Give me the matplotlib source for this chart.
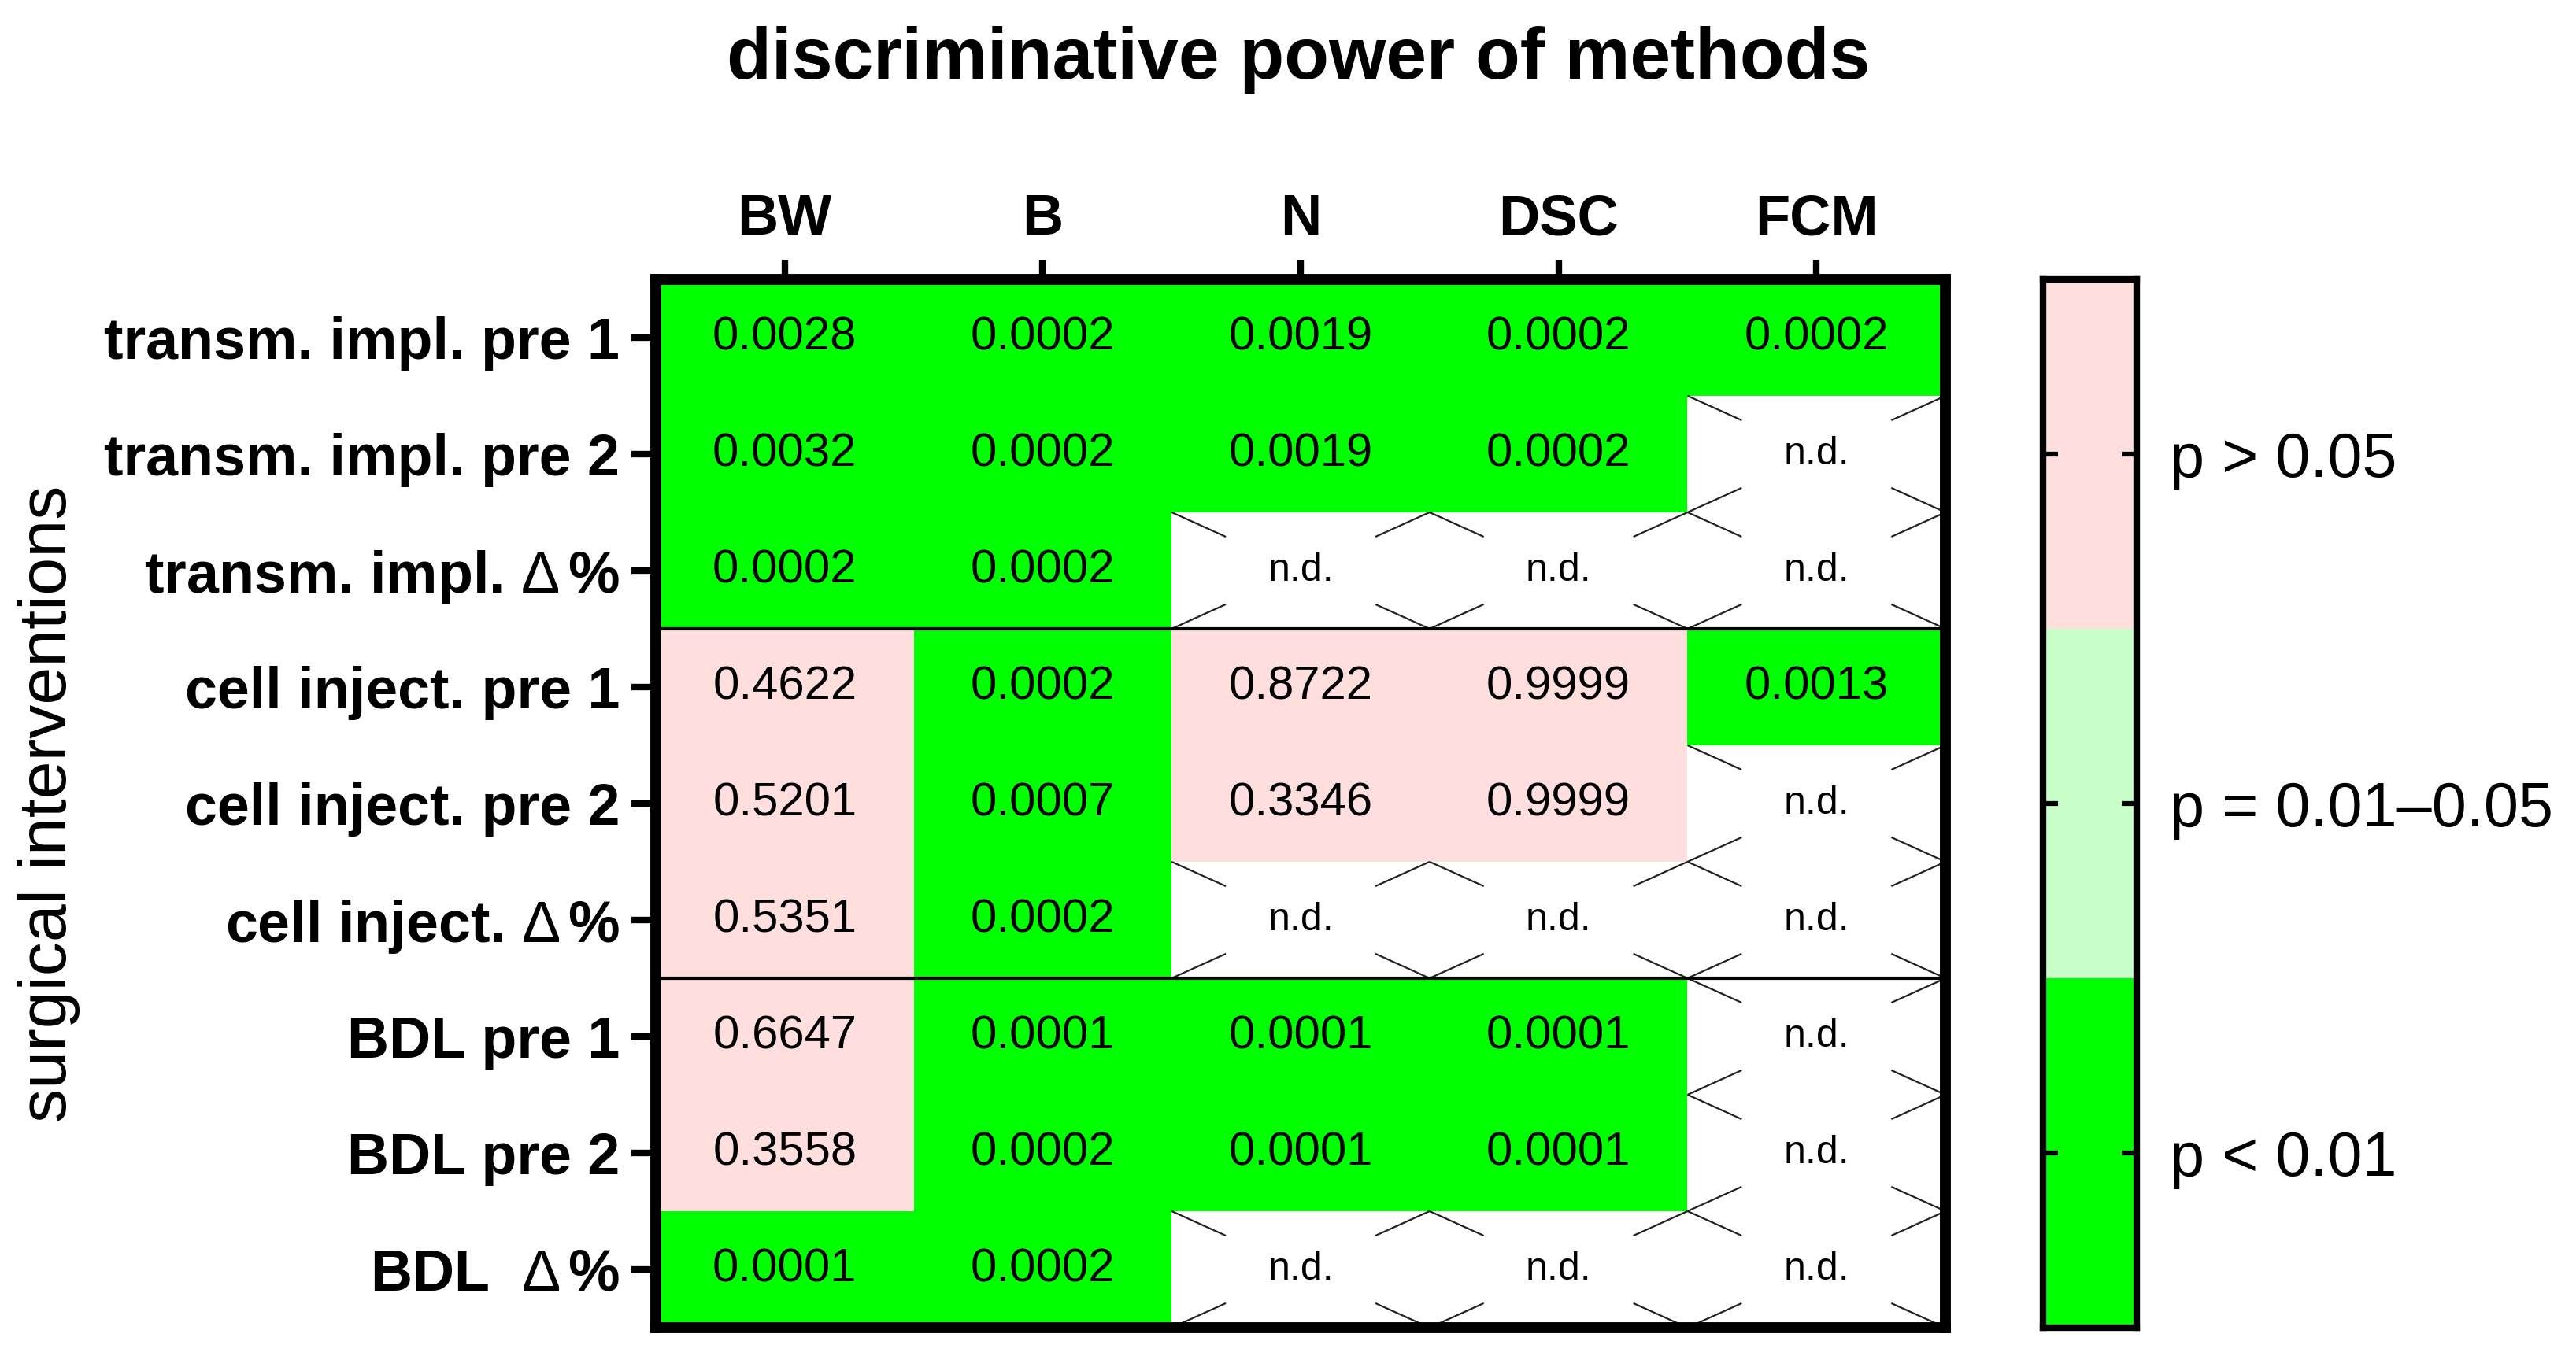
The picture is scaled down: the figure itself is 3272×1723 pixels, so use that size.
import numpy as np
import matplotlib
matplotlib.use('Agg')
import matplotlib.pyplot as plt
from matplotlib.colors import ListedColormap, BoundaryNorm

plt.rcParams['font.family'] = ['Liberation Sans', 'DejaVu Sans']
plt.rcParams['mathtext.fontset'] = 'custom'
plt.rcParams['mathtext.rm'] = 'Liberation Sans'
plt.rcParams['mathtext.it'] = 'Liberation Sans:italic'
plt.rcParams['mathtext.bf'] = 'Liberation Sans:bold'

my_dpi = 100
width = 3273
height = 1723

# data
methods = ['BW', 'B', 'N', 'DSC', 'FCM']
interventions = ['transm. impl. pre 1',
                 'transm. impl. pre 2',
                 r'transm. impl. $\Delta\,$%',
                 'cell inject. pre 1',
                 'cell inject. pre 2',
                 r'cell inject. $\Delta\,$%',
                 'BDL pre 1',
                 'BDL pre 2',
                 r'BDL  $\Delta\,$%']
nd = np.nan
p_values = np.array([
    [0.0028, 0.0002, 0.0019, 0.0002, 0.0002],
    [0.0032, 0.0002, 0.0019, 0.0002, nd],
    [0.0002, 0.0002, nd, nd, nd],
    [0.4622, 0.0002, 0.8722, 0.9999, 0.0013],
    [0.5201, 0.0007, 0.3346, 0.9999, nd],
    [0.5351, 0.0002, nd, nd, nd],
    [0.6647, 0.0001, 0.0001, 0.0001, nd],
    [0.3558, 0.0002, 0.0001, 0.0001, nd],
    [0.0001, 0.0002, nd, nd, nd],
])
p_bounds = [0.0, 0.01, 0.05, 1.0]
class_colors = ['#00FF00', '#C8FFC8', '#FFDEDE']
class_labels = ['p < 0.01', 'p = 0.01\u20130.05', 'p > 0.05']
group_breaks = [3, 6]

cmap = ListedColormap(class_colors)
cmap.set_bad('white')
norm = BoundaryNorm(p_bounds, cmap.N)

fig = plt.figure(figsize=(width / my_dpi, height / my_dpi), dpi=my_dpi)
ax = fig.add_axes([0.2545, 0.0209, 0.5005, 0.7731])

ax.pcolormesh(np.ma.masked_invalid(p_values), cmap=cmap, norm=norm)
ax.set_xlim(0, len(methods))
ax.set_ylim(len(interventions), 0)

n_rows, n_cols = p_values.shape
frac = 0.21
for i in range(n_rows):
    for j in range(n_cols):
        v = p_values[i, j]
        if np.isnan(v):
            ax.text(j + 0.5, i + 0.5, 'n.d.', ha='center', va='center', fontsize=36)
            # broken cross like the original export
            for cx, cy, dx, dy in [(j, i, 1, 1), (j + 1, i, -1, 1),
                                   (j, i + 1, 1, -1), (j + 1, i + 1, -1, -1)]:
                ax.plot([cx, cx + frac * dx], [cy, cy + frac * dy],
                        color='#222222', lw=1.6, solid_capstyle='butt')
        else:
            ax.text(j + 0.5, i + 0.5, '%.4f' % v, ha='center', va='center', fontsize=43)

for b in group_breaks:
    ax.axhline(b, color='black', lw=3)

ax.set_xticks(np.arange(n_cols) + 0.5)
ax.set_xticklabels(methods, fontweight='bold')
ax.set_yticks(np.arange(n_rows) + 0.5)
ax.set_yticklabels(interventions, fontweight='bold')
ax.xaxis.tick_top()
ax.tick_params(axis='x', length=18, width=6, pad=12, labelsize=52)
ax.tick_params(axis='y', length=22, width=6, pad=11, labelsize=53)
for s in ax.spines.values():
    s.set_linewidth(10)

# colour key
cax = fig.add_axes([0.7929, 0.0209, 0.0364, 0.7731])
cax.pcolormesh(np.arange(len(class_colors)).reshape(-1, 1),
               cmap=ListedColormap(class_colors), vmin=-0.5, vmax=len(class_colors) - 0.5)
cax.set_ylim(0, len(class_colors))
cax.set_xticks([])
cax.set_yticks(np.arange(len(class_labels)) + 0.5)
cax.set_yticklabels(class_labels)
cax.tick_params(axis='y', left=True, right=True, labelleft=False, labelright=True,
                direction='in', length=14, width=4.5, pad=30, labelsize=57)
for s in cax.spines.values():
    s.set_linewidth(6)

fig.text(0.019, 0.4075, 'surgical interventions', rotation=90,
         ha='center', va='center', fontsize=62)
fig.text(0.504, 0.942, 'discriminative power of methods', ha='center',
         va='baseline', fontsize=67, fontweight='bold')

fig.savefig('out.png', dpi=my_dpi)
